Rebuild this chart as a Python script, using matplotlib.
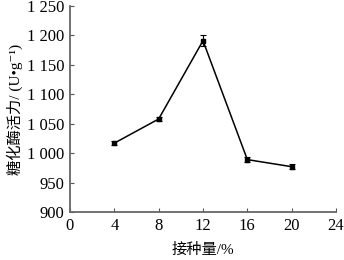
import matplotlib
matplotlib.use('Agg')
import matplotlib.pyplot as plt
import numpy as np

plt.rcParams['font.family'] = ['Liberation Serif', 'Noto Sans CJK SC', 'DejaVu Serif']
plt.rcParams['font.size'] = 10.5

# 接种量 vs 糖化酶活力
inoculum = [4, 8, 12, 16, 20]
activity = [1017, 1058, 1191, 989, 977]
errors = [4, 3, 9, 4, 4]

xticks = [0, 4, 8, 12, 16, 20, 24]
yticks = [900, 950, 1000, 1050, 1100, 1150, 1200, 1250]
ytick_labels = ['900', '950', '1 000', '1 050', '1 100', '1 150', '1 200', '1 250']

fig = plt.figure(figsize=(3.44, 2.60), dpi=100)
ax = fig.add_axes([70/344, 1-212/260, 266/344, 206/260])

ax.errorbar(inoculum, activity, yerr=errors, color='black', lw=1.1,
            marker='s', ms=2.3, capsize=2.5, elinewidth=0.8, capthick=0.8)

ax.set_xlim(0, 24)
ax.set_ylim(900, 1250)
ax.set_xticks(xticks)
ax.set_yticks(yticks)
ax.set_yticklabels(ytick_labels)
ax.tick_params(direction='in', length=3, color='#555555', labelsize=12, pad=4)

for s in ['top', 'right']:
    ax.spines[s].set_visible(False)
for s in ['left', 'bottom']:
    ax.spines[s].set_color('#666666')
    ax.spines[s].set_linewidth(1.3)

ax.set_xlabel('接种量/%', fontsize=11, labelpad=7)
ax.set_ylabel('糖化酶活力/ (U•g⁻¹)', fontsize=11, labelpad=3)

fig.savefig('out.png', dpi=100)
